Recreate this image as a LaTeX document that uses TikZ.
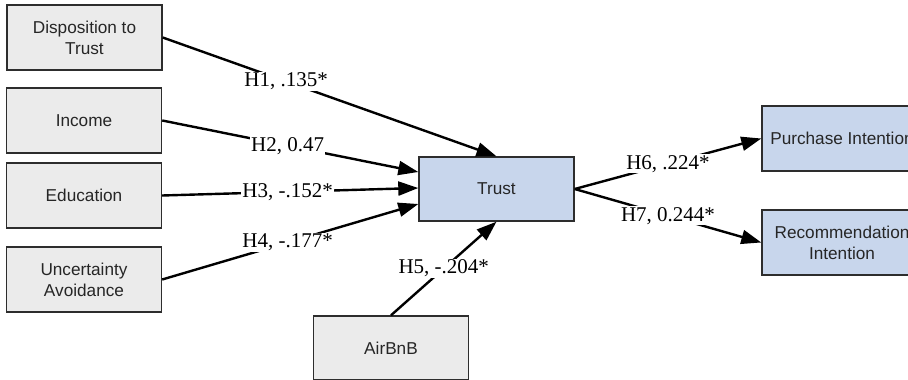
\documentclass[tikz,border=0pt]{standalone}
\usepackage{fontspec}
\setmainfont{Liberation Serif}
\setsansfont{Liberation Sans}
\usetikzlibrary{arrows.meta}
\definecolor{boxgray}{RGB}{235,235,235}
\definecolor{boxblue}{RGB}{200,214,236}
\definecolor{edgegray}{RGB}{45,45,45}
\tikzset{
  graybox/.style={draw=edgegray, line width=1.4pt, fill=boxgray, minimum width=155pt, minimum height=65pt,
    align=center, font=\sffamily\fontsize{17.2}{21}\selectfont, text=black!85, inner sep=0pt},
  bluebox/.style={graybox, fill=boxblue},
  conn/.style={line width=2.4pt, -{Triangle[length=20pt,width=14pt]}},
  lbl/.style={fill=white, inner sep=1pt, font=\fontsize{21}{22}\selectfont}
}
\begin{document}
\begin{tikzpicture}[x=1pt,y=-1pt]
\useasboundingbox (0,0) rectangle (908,380);
\fill[white] (0,0) rectangle (908,380);
\node[graybox] (disp) at (84.5,37.5) {Disposition to\\Trust};
\node[graybox] (inc) at (84,120.5) {Income};
\node[graybox] (edu) at (84,195.5) {Education};
\node[graybox] (unc) at (84,279.5) {Uncertainty\\Avoidance};
\node[graybox, minimum height=64pt] (air) at (391,348) {AirBnB};
\node[bluebox, minimum height=64pt] (trust) at (496.5,189) {Trust};
\node[bluebox, minimum width=160pt] (purch) at (842,138.5) {Purchase Intention};
\node[bluebox, minimum width=160pt] (rec) at (842,242.5) {Recommendation\\Intention};

\draw[conn] (disp.east) -- node[lbl, pos=0.37] {H1, .135*} (trust.north);
\draw[conn] (inc.east) -- node[lbl, pos=0.49] {H2, 0.47} ([yshift=17pt]trust.west);
\draw[conn] (edu.east) -- node[lbl, pos=0.49] {H3, -.152*} ([yshift=1pt]trust.west);
\draw[conn] (unc.east) -- node[lbl, pos=0.49] {H4, -.177*} ([yshift=-15pt]trust.west);
\draw[conn] (air.north) -- node[lbl, pos=0.5] {H5, -.204*} (trust.south);
\draw[conn] (trust.east) -- node[lbl, pos=0.5] {H6, .224*} (purch.west);
\draw[conn] (trust.east) -- node[lbl, pos=0.5] {H7, 0.244*} (rec.west);
\end{tikzpicture}
\end{document}
